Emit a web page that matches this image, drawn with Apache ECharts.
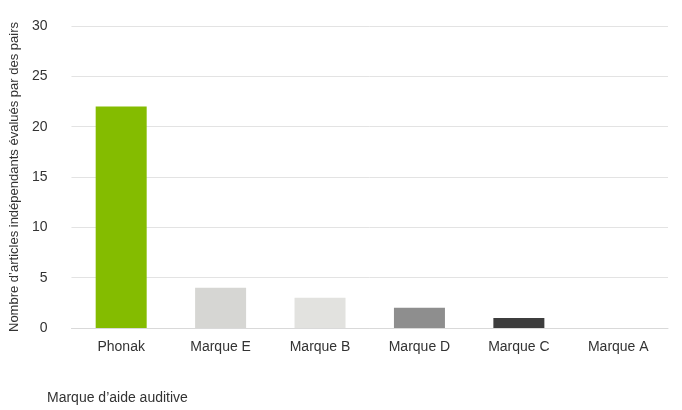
<!DOCTYPE html>
<html style="height: 100%">
<head>
    <meta charset="utf-8">
</head>
<body style="height: 100%; margin: 0; background: #fff">
    <div id="container" style="height: 100%"></div>
    <script type="text/javascript" src="https://cdn.jsdelivr.net/npm/echarts@6/dist/echarts.min.js"></script>
    <script type="text/javascript">
        var categories = ['Phonak', 'Marque E', 'Marque B', 'Marque D', 'Marque C', 'Marque A'];
        var values = [22, 4, 3, 2, 1, 0];
        var barColors = ['#84bc00', '#d6d6d3', '#e2e2df', '#8e8e8e', '#3d3d3d', '#cccccc'];
        var yTicks = [0, 5, 10, 15, 20, 25, 30];

        var myChart = echarts.init(document.getElementById('container'));
        myChart.setOption({
            animation: false,
            textStyle: { fontFamily: 'Liberation Sans, Arial, sans-serif' },
            grid: { left: 65, right: 14, top: 26, bottom: 82 },
            title: {
                text: "Marque d\u2019aide auditive",
                left: 42, top: 386,
                textStyle: { fontSize: 14, fontWeight: 'normal', color: '#333' }
            },
            xAxis: {
                type: 'category',
                data: categories,
                axisLine: { lineStyle: { color: '#d9d9d9' } },
                axisTick: { show: false },
                axisLabel: { color: '#333', fontSize: 14, margin: 12 }
            },
            yAxis: {
                type: 'value',
                min: yTicks[0], max: yTicks[yTicks.length - 1], interval: 5,
                name: 'Nombre d\u2019articles ind\u00e9pendants \u00e9valu\u00e9s par des pairs',
                nameLocation: 'middle', nameGap: 45,
                nameTextStyle: { color: '#333', fontSize: 13 },
                axisLabel: { color: '#333', fontSize: 14, margin: 24 },
                splitLine: { lineStyle: { color: '#e3e3e3' } }
            },
            series: [{
                type: 'bar',
                barWidth: 51,
                data: values.map(function (v, i) {
                    return { value: v, itemStyle: { color: barColors[i] } };
                })
            }]
        });
    </script>
</body>
</html>
